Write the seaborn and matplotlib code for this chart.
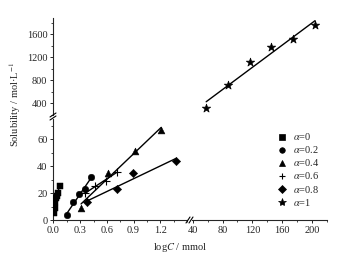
import numpy as np
import pandas as pd
import seaborn as sns
import matplotlib.pyplot as plt
from matplotlib.lines import Line2D
from matplotlib.ticker import MultipleLocator

# series (lower panel: logC < 1.5, upper panel: stars)
a0_x = [0.01, 0.015, 0.02, 0.03, 0.04, 0.05, 0.07]
a0_y = [5, 9, 13, 16, 18, 20, 25]
a02_x = [0.15, 0.22, 0.29, 0.36, 0.42]
a02_y = [4, 13, 19, 23, 32]
a04_x = [0.31, 0.61, 0.92, 1.21]
a04_y = [9, 35, 51, 67]
a06_x = [0.35, 0.47, 0.59, 0.71]
a06_y = [20, 25, 29, 36]
a08_x = [0.38, 0.71, 0.89, 1.38]
a08_y = [13, 23, 35, 44]
a1_x = [58, 87, 117, 145, 175, 204]
a1_y = [320, 720, 1110, 1370, 1510, 1760]

LABELS = [r"$\alpha$=0", r"$\alpha$=0.2", r"$\alpha$=0.4",
          r"$\alpha$=0.6", r"$\alpha$=0.8", r"$\alpha$=1"]
MARKERS = ["s", "o", "^", "+", "D", "*"]
SIZES = [18, 22, 24, 28, 18, 40]

low = [(a0_x, a0_y), (a02_x, a02_y), (a04_x, a04_y),
       (a06_x, a06_y), (a08_x, a08_y)]

sns.set_theme(style="ticks")
plt.rcParams.update({
    "font.family": ["Liberation Serif", "DejaVu Serif"],
    "mathtext.fontset": "stix",
    "font.size": 7.5,
    "xtick.labelsize": 7.5,
    "ytick.labelsize": 7.5,
    "xtick.direction": "out",
    "ytick.direction": "out",
    "xtick.major.size": 2.5,
    "ytick.major.size": 2.5,
    "xtick.minor.size": 1.3,
    "ytick.minor.size": 1.3,
    "xtick.major.width": 0.7,
    "ytick.major.width": 0.7,
    "xtick.minor.width": 0.6,
    "ytick.minor.width": 0.6,
    "axes.linewidth": 0.8,
    "xtick.major.pad": 1.5,
    "ytick.major.pad": 1.5,
})

W, H = 340, 261
fig = plt.figure(figsize=(W / 100, H / 100), dpi=100)


def box(x0, y0, x1, y1):
    # pixel box (from top-left) -> figure fraction rect
    return [x0 / W, 1 - y1 / H, (x1 - x0) / W, (y1 - y0) / H]


ax_ll = fig.add_axes(box(53, 119, 187, 220))
ax_ul = fig.add_axes(box(53, 18, 187, 115))
ax_lr = fig.add_axes(box(192, 119, 327, 220))
ax_ur = fig.add_axes(box(192, 18, 327, 115))

for ax in (ax_ll, ax_ul, ax_lr, ax_ur):
    ax.set_facecolor("none")
    for s in ("top", "right"):
        ax.spines[s].set_visible(False)

# lower-left: data
for (xs, ys), m, sz in zip(low, MARKERS[:5], SIZES[:5]):
    d = pd.DataFrame({"x": xs, "y": ys})
    kw = dict(edgecolor="black") if m != "+" else dict(linewidth=0.8)
    sns.scatterplot(data=d, x="x", y="y", marker=m, s=sz, color="black",
                    ax=ax_ll, legend=False, zorder=3, **kw)
    sns.regplot(data=d, x="x", y="y", scatter=False, ci=None, truncate=True,
                color="black", line_kws=dict(lw=1.0), ax=ax_ll)

ax_ll.set_xlim(-0.005, 1.5)
ax_ll.set_ylim(0, 75)
ax_ll.xaxis.set_minor_locator(MultipleLocator(0.15))
ax_ll.yaxis.set_minor_locator(MultipleLocator(10))
ax_ll.set_xticks([0, 0.3, 0.6, 0.9, 1.2])
ax_ll.set_xticklabels(["0.0", "0.3", "0.6", "0.9", "1.2"])
ax_ll.set_yticks([0, 20, 40, 60])
ax_ll.set_xlabel("")
ax_ll.set_ylabel("")

# upper-left: only y axis
ax_ul.set_ylim(200, 1880)
ax_ul.yaxis.set_minor_locator(MultipleLocator(200))
ax_ul.set_yticks([400, 800, 1200, 1600])
ax_ul.spines["bottom"].set_visible(False)
ax_ul.tick_params(axis="x", which="both", bottom=False, labelbottom=False)

# lower-right: only x axis
ax_lr.set_xlim(39, 220)
ax_lr.xaxis.set_minor_locator(MultipleLocator(20))
ax_lr.set_xticks([40, 80, 120, 160, 200])
ax_lr.spines["left"].set_visible(False)
ax_lr.tick_params(axis="y", which="both", left=False, labelleft=False)

# upper-right: stars
d1 = pd.DataFrame({"x": a1_x, "y": a1_y})
sns.scatterplot(data=d1, x="x", y="y", marker="*", s=SIZES[5], color="black",
                edgecolor="black", ax=ax_ur, legend=False, zorder=3)
sns.regplot(data=d1, x="x", y="y", scatter=False, ci=None, truncate=True,
            color="black", line_kws=dict(lw=1.0), ax=ax_ur)
ax_ur.set_xlim(ax_lr.get_xlim())
ax_ur.set_ylim(ax_ul.get_ylim())
ax_ur.axis("off")

# axis break marks
for oy in (0, 3):
    fig.add_artist(Line2D([50 / W, 56 / W],
                          [1 - (117 + oy) / H, 1 - (113 + oy) / H],
                          color="black", lw=0.8))
for ox in (0, 3):
    fig.add_artist(Line2D([(186 + ox) / W, (190 + ox) / W],
                          [1 - 223 / H, 1 - 217 / H], color="black", lw=0.8))

# legend
handles = []
for m, lab in zip(MARKERS, LABELS):
    handles.append(Line2D([], [], marker=m, color="black", linestyle="none",
                          markersize=6 if m == "*" else (5 if m == "+" else 4),
                          markeredgewidth=0.8 if m == "+" else 0.5, label=lab))
fig.legend(handles=handles, loc="upper left",
           bbox_to_anchor=(273 / W, 1 - 126 / H), frameon=False,
           fontsize=7.5, handlelength=0.8, handletextpad=0.6,
           labelspacing=0.2, borderpad=0)

fig.text(15 / W, 1 - 105 / H, "Solubility / mol·L$^{-1}$", rotation=90,
         ha="center", va="center", fontsize=7.5)
fig.text(180 / W, 1 - 247 / H, "log$C$ / mmol", ha="center", va="center",
         fontsize=7.5)

fig.savefig("out.png", dpi=100)
